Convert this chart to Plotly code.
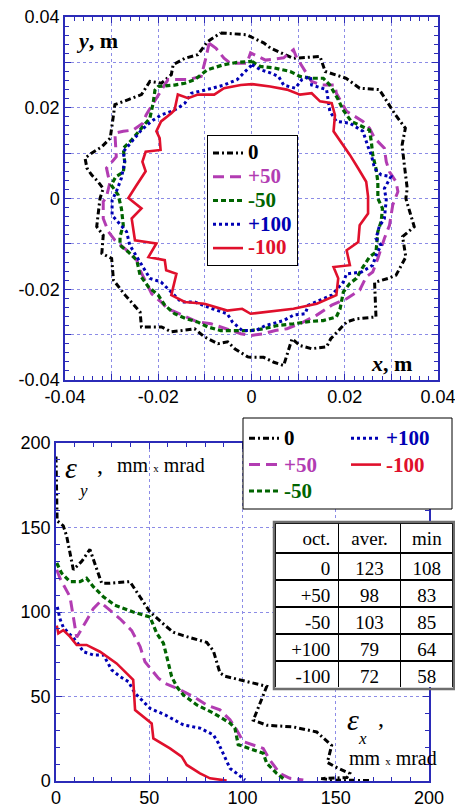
import plotly.graph_objects as go

W, H = 455, 809

# ---- dynamic aperture boundaries (x, y in metres), one closed contour per octupole setting
ap_x_0 = [-0.0066, -0.0011, 0.0026, 0.0040, 0.0089, 0.0147, 0.0158, 0.0203, 0.0232, 0.0274, 0.0288, 0.0309,
          0.0330, 0.0323, 0.0327, 0.0334, 0.0331, 0.0349, 0.0324, 0.0331, 0.0310, 0.0293, 0.0264, 0.0267,
          0.0225, 0.0204, 0.0170, 0.0161, 0.0129, 0.0104, 0.0087, 0.0069, 0.0048, 0.0026, -0.0002, -0.0008,
          -0.0036, -0.0051, -0.0072, -0.0101, -0.0122, -0.0172, -0.0193, -0.0236, -0.0239, -0.0271, -0.0296,
          -0.0300, -0.0321, -0.0318, -0.0332, -0.0325, -0.0318, -0.0329, -0.0343, -0.0353, -0.0357, -0.0343,
          -0.0321, -0.0303, -0.0296, -0.0293, -0.0264, -0.0236, -0.0218, -0.0193, -0.0172, -0.0168, -0.0143,
          -0.0115, -0.0094, -0.0066]
ap_y_0 = [0.0365, 0.0361, 0.0343, 0.0332, 0.0309, 0.0313, 0.0280, 0.0265, 0.0243, 0.0240, 0.0218, 0.0184,
          0.0155, 0.0118, 0.0081, 0.0022, 0.0000, -0.0062, -0.0084, -0.0129, -0.0169, -0.0176, -0.0185, -0.0261,
          -0.0265, -0.0272, -0.0309, -0.0327, -0.0331, -0.0324, -0.0309, -0.0368, -0.0361, -0.0350, -0.0350,
          -0.0349, -0.0331, -0.0316, -0.0320, -0.0305, -0.0287, -0.0294, -0.0283, -0.0283, -0.0250, -0.0213,
          -0.0180, -0.0132, -0.0121, -0.0081, -0.0062, 0.0000, 0.0022, 0.0037, 0.0052, 0.0067, 0.0089, 0.0100,
          0.0114, 0.0133, 0.0184, 0.0207, 0.0218, 0.0229, 0.0258, 0.0254, 0.0273, 0.0295, 0.0309, 0.0317,
          0.0346, 0.0365]

ap_x_p50 = [-0.0091, -0.0076, -0.0059, -0.0045, -0.0010, -0.0002, 0.0030, 0.0069, 0.0090, 0.0097, 0.0129,
            0.0151, 0.0179, 0.0182, 0.0204, 0.0239, 0.0253, 0.0264, 0.0285, 0.0289, 0.0296, 0.0310, 0.0314,
            0.0303, 0.0296, 0.0285, 0.0271, 0.0260, 0.0246, 0.0232, 0.0204, 0.0172, 0.0140, 0.0104, 0.0076,
            0.0051, 0.0026, -0.0002, -0.0023, -0.0087, -0.0116, -0.0162, -0.0179, -0.0194, -0.0214, -0.0239,
            -0.0246, -0.0268, -0.0293, -0.0307, -0.0318, -0.0318, -0.0311, -0.0304, -0.0311, -0.0290, -0.0293,
            -0.0275, -0.0254, -0.0233, -0.0226, -0.0215, -0.0204, -0.0194, -0.0179, -0.0136, -0.0108, -0.0098,
            -0.0091]
ap_y_p50 = [0.0342, 0.0331, 0.0309, 0.0298, 0.0298, 0.0321, 0.0305, 0.0310, 0.0328, 0.0310, 0.0258,
            0.0250, 0.0250, 0.0232, 0.0192, 0.0170, 0.0155, 0.0133, 0.0111, 0.0081, 0.0059, 0.0037, 0.0015,
            -0.0014, -0.0059, -0.0088, -0.0132, -0.0162, -0.0173, -0.0202, -0.0221, -0.0235, -0.0257, -0.0276,
            -0.0287, -0.0291, -0.0298, -0.0302, -0.0298, -0.0276, -0.0272, -0.0250, -0.0243, -0.0228, -0.0210,
            -0.0158, -0.0136, -0.0114, -0.0092, -0.0073, -0.0044, -0.0007, 0.0004, 0.0034, 0.0067, 0.0092,
            0.0144, 0.0148, 0.0151, 0.0166, 0.0184, 0.0203, 0.0221, 0.0239, 0.0262, 0.0262, 0.0269, 0.0309,
            0.0342]

ap_x_m50 = [0.0001, 0.0019, 0.0047, 0.0083, 0.0104, 0.0129, 0.0154, 0.0168, 0.0186, 0.0196, 0.0214, 0.0239,
            0.0253, 0.0257, 0.0260, 0.0267, 0.0271, 0.0271, 0.0281, 0.0278, 0.0271, 0.0267, 0.0253, 0.0239,
            0.0225, 0.0211, 0.0197, 0.0190, 0.0182, 0.0154, 0.0126, 0.0090, 0.0055, 0.0026, -0.0002, -0.0031,
            -0.0066, -0.0094, -0.0116, -0.0140, -0.0165, -0.0186, -0.0200, -0.0221, -0.0239, -0.0246, -0.0264,
            -0.0282, -0.0282, -0.0275, -0.0279, -0.0286, -0.0301, -0.0291, -0.0275, -0.0272, -0.0275, -0.0257,
            -0.0240, -0.0218, -0.0211, -0.0207, -0.0200, -0.0165, -0.0143, -0.0122, -0.0108, -0.0094, -0.0059,
            -0.0031, 0.0001]
ap_y_m50 = [0.0302, 0.0291, 0.0288, 0.0280, 0.0269, 0.0265, 0.0265, 0.0250, 0.0218, 0.0196, 0.0170, 0.0159,
            0.0151, 0.0125, 0.0096, 0.0066, 0.0037, 0.0000, -0.0022, -0.0051, -0.0073, -0.0118, -0.0129, -0.0151,
            -0.0176, -0.0187, -0.0206, -0.0243, -0.0261, -0.0269, -0.0271, -0.0276, -0.0280, -0.0287, -0.0291,
            -0.0291, -0.0291, -0.0283, -0.0272, -0.0265, -0.0254, -0.0235, -0.0213, -0.0195, -0.0169, -0.0136,
            -0.0118, -0.0103, -0.0084, -0.0059, -0.0022, 0.0008, 0.0030, 0.0048, 0.0058, 0.0081, 0.0111, 0.0129,
            0.0151, 0.0177, 0.0210, 0.0239, 0.0247, 0.0250, 0.0254, 0.0262, 0.0273, 0.0284, 0.0295, 0.0300,
            0.0302]

ap_x_p100 = [0.0001, 0.0019, 0.0040, 0.0058, 0.0069, 0.0094, 0.0108, 0.0126, 0.0129, 0.0161, 0.0168, 0.0182,
             0.0211, 0.0239, 0.0250, 0.0257, 0.0264, 0.0278, 0.0299, 0.0285, 0.0289, 0.0285, 0.0274, 0.0267,
             0.0278, 0.0267, 0.0260, 0.0236, 0.0204, 0.0197, 0.0172, 0.0140, 0.0122, 0.0115, 0.0090, 0.0069,
             0.0030, 0.0009, -0.0020, -0.0041, -0.0052, -0.0084, -0.0122, -0.0151, -0.0165, -0.0194, -0.0218,
             -0.0243, -0.0261, -0.0268, -0.0299, -0.0299, -0.0290, -0.0279, -0.0272, -0.0275, -0.0257, -0.0236,
             -0.0215, -0.0194, -0.0172, -0.0158, -0.0143, -0.0129, -0.0100, -0.0059, -0.0031, -0.0010, 0.0001]
ap_y_p100 = [0.0295, 0.0284, 0.0277, 0.0269, 0.0250, 0.0243, 0.0262, 0.0269, 0.0250, 0.0240, 0.0192, 0.0170,
             0.0166, 0.0148, 0.0114, 0.0096, 0.0066, 0.0052, 0.0048, 0.0022, -0.0003, -0.0044, -0.0062, -0.0088,
             -0.0103, -0.0125, -0.0147, -0.0162, -0.0166, -0.0184, -0.0213, -0.0228, -0.0235, -0.0254, -0.0257,
             -0.0269, -0.0280, -0.0291, -0.0291, -0.0272, -0.0254, -0.0243, -0.0228, -0.0228, -0.0213, -0.0184,
             -0.0176, -0.0132, -0.0103, -0.0073, -0.0037, -0.0004, 0.0015, 0.0045, 0.0081, 0.0103, 0.0125, 0.0151,
             0.0170, 0.0184, 0.0192, 0.0199, 0.0210, 0.0232, 0.0239, 0.0250, 0.0262, 0.0284, 0.0295]

ap_x_m100 = [0.0001, 0.0040, 0.0076, 0.0104, 0.0129, 0.0147, 0.0172, 0.0179, 0.0176, 0.0200, 0.0211, 0.0229,
             0.0246, 0.0250, 0.0250, 0.0232, 0.0229, 0.0204, 0.0211, 0.0176, 0.0186, 0.0182, 0.0140, 0.0090,
             0.0033, -0.0002, -0.0020, -0.0052, -0.0101, -0.0143, -0.0172, -0.0168, -0.0161, -0.0183, -0.0186,
             -0.0221, -0.0204, -0.0250, -0.0257, -0.0236, -0.0264, -0.0248, -0.0227, -0.0234, -0.0227, -0.0195,
             -0.0197, -0.0204, -0.0194, -0.0172, -0.0165, -0.0158, -0.0136, -0.0115, -0.0080, -0.0059, -0.0023,
             0.0001]
ap_y_m100 = [0.0252, 0.0247, 0.0240, 0.0229, 0.0232, 0.0214, 0.0210, 0.0184, 0.0148, 0.0114, 0.0096, 0.0066,
             0.0037, 0.0004, -0.0033, -0.0059, -0.0096, -0.0114, -0.0147, -0.0151, -0.0176, -0.0213, -0.0232,
             -0.0243, -0.0250, -0.0254, -0.0243, -0.0247, -0.0232, -0.0228, -0.0213, -0.0195, -0.0166, -0.0158,
             -0.0136, -0.0129, -0.0099, -0.0092, -0.0044, -0.0022, 0.0001, 0.0027, 0.0060, 0.0081, 0.0103, 0.0107,
             0.0133, 0.0148, 0.0170, 0.0188, 0.0195, 0.0229, 0.0221, 0.0229, 0.0229, 0.0243, 0.0250, 0.0252]

# ---- emittance boundaries, eps_x vs eps_y (mm x mrad)
ex_0 = [0, 0.4, 0.6, 3.9, 5.7, 9.3, 13.8, 18.2, 24.5, 28.9, 39.6, 45.0, 50.4, 58.5, 62.9, 68.3, 80.8, 84.4,
        87.9, 90.6, 102.2, 113.0, 109.4, 105.8, 113.0, 127.3, 139.8, 147.8, 145.5, 149.5, 157.5, 156.0, 142.0,
        150.0, 168.0]
ey_0 = [192, 175, 154, 151, 145, 125, 130, 137, 117, 117, 118, 109, 100, 92, 88, 86, 82, 77,
        64, 62, 59, 56, 46, 36, 33, 32, 29, 21, 11, 8.5, 4.5, 2.0, 1.5,
        0.5, 0.3]

ex_p50 = [0.4, 2.1, 7.5, 9.3, 10.2, 11.1, 16.4, 20.0, 23.6, 30.7, 34.3, 40.6, 45.1, 47.7, 50.4, 54.9, 58.5,
          64.7, 73.6, 80.8, 87.9, 93.3, 96.9, 99.6, 100.4, 111.1, 114.7, 120.0, 125.4, 132.6]
ey_p50 = [125, 120, 109, 97, 91, 85, 95, 102, 106, 99, 96, 89, 79.5, 70.6, 66.7, 60.8, 57.8,
          54.9, 50, 45, 42.1, 36.2, 30.2, 24.3, 23.3, 19.3, 12.4, 4.5, 1.6, 0.6]

ex_m50 = [0.4, 3.0, 7.5, 12.9, 16.4, 20.0, 25.4, 31.6, 41.4, 50.4, 54.0, 57.6, 59.4, 62.0, 64.7, 68.3, 75.5,
          84.4, 93.3, 95.9, 97.7, 103.0, 111.1, 113.0, 118.3, 122.8]
ey_m50 = [129, 123, 118, 118, 120, 115, 109, 104, 100, 97, 87.4, 81.5, 73.6, 61.8, 55.9, 50.9, 45,
          40.2, 34.3, 31.4, 21.5, 19.5, 16.4, 10.5, 4.5, 0.6]

ex_p100 = [0.7, 2.1, 3.9, 11.1, 14.7, 20.0, 25.4, 29.9, 34.3, 38.8, 42.4, 50.4, 58.5, 68.3, 77.2, 84.4, 87.1,
           89.7, 93.3, 96.9, 101.4]
ey_p100 = [103, 96, 91, 82.4, 76.5, 74.6, 74.6, 65.7, 61.8, 58.8, 51.9, 43, 39.1, 33.2, 31.3, 27.3, 22.3,
           16.4, 7.5, 4.5, 0.6]

ex_m100 = [0.4, 1.25, 3.9, 7.5, 11.1, 16.4, 23.6, 32.5, 37.9, 41.4, 42.4, 49.5, 51.3, 52.2, 61.1, 67.4, 70.1,
           77.2, 82.6, 91.5]
ey_m100 = [92, 87.4, 89.3, 85.4, 80.5, 80.5, 76.5, 69.6, 63.7, 59.8, 42, 36.1, 34.1, 25.2, 19.3, 14.4, 9.5,
           4.5, 1.6, 0.2]

# ---- summary table
tbl_head = ["oct.", "aver.", "min"]
tbl_oct = ["0", "+50", "-50", "+100", "-100"]
tbl_aver = ["123", "98", "103", "79", "72"]
tbl_min = ["108", "83", "85", "64", "58"]

names = ["0", "+50", "-50", "+100", "-100"]
colors = ["#000000", "#b23cb2", "#006400", "#0000b4", "#e0102c"]
dashes = ["6px,3px,2px,3px", "11px,6px", "5px,3px", "3px,3px", "solid"]
widths = [3, 3, 3.2, 3, 2.6]

ap_sets = [(ap_x_0, ap_y_0), (ap_x_p50, ap_y_p50), (ap_x_m50, ap_y_m50),
           (ap_x_p100, ap_y_p100), (ap_x_m100, ap_y_m100)]
em_sets = [(ex_0, ey_0), (ex_p50, ey_p50), (ex_m50, ey_m50),
           (ex_p100, ey_p100), (ex_m100, ey_m100)]
# lower legend: first column 0, +50, -50; second column +100, -100
em_legend = ["legend2", "legend2", "legend2", "legend3", "legend3"]


def px(xp):
    return xp / W


def py(yp):
    return 1 - yp / H


def label(name, color):
    return (f'<span style="color:{color};font-size:21px;font-family:Liberation Serif">'
            f'<b>{name}</b></span>')


fig = go.Figure()

for i, (xs, ys) in enumerate(ap_sets):
    fig.add_trace(go.Scatter(
        x=xs, y=ys, mode="lines", xaxis="x", yaxis="y",
        line=dict(color=colors[i], dash=dashes[i], width=widths[i]),
        name=label(names[i], colors[i]), legend="legend", legendrank=i + 1))

for i, (xs, ys) in enumerate(em_sets):
    fig.add_trace(go.Scatter(
        x=xs, y=ys, mode="lines", xaxis="x2", yaxis="y2",
        line=dict(color=colors[i], dash=dashes[i], width=widths[i]),
        name=label(names[i], colors[i]), legend=em_legend[i], legendrank=i + 1))

fig.add_trace(go.Table(
    domain=dict(x=[px(275), px(453)], y=[py(688), py(523)]),
    columnwidth=[63, 62, 52],
    header=dict(values=tbl_head, align=["right", "center", "center"], height=30,
                fill_color="white", line=dict(color="black", width=1.5),
                font=dict(family="Liberation Serif", size=19, color="black")),
    cells=dict(values=[tbl_oct, tbl_aver, tbl_min], align=["right", "center", "center"], height=27,
               fill_color="white", line=dict(color="black", width=1.5),
               font=dict(family="Liberation Serif", size=19, color="black"))))

axis_blue = "#2b2bb8"
grid_blue = "#8c8ce6"
tickfont = dict(family="Liberation Sans", size=18, color="black")

ap_ticks = [-0.04, -0.03, -0.02, -0.01, 0, 0.01, 0.02, 0.03, 0.04]
ap_text = ["-0.04", "", "-0.02", "", "0", "", "0.02", "", "0.04"]
em_ticks = [0, 50, 100, 150, 200]
em_text = ["0", "50", "100", "150", "200"]

common = dict(showline=True, linecolor=axis_blue, linewidth=1.5, mirror="ticks",
              ticks="inside", ticklen=6, tickcolor=axis_blue, tickwidth=1,
              showgrid=True, gridcolor=grid_blue, griddash="dot", gridwidth=1,
              zeroline=False, tickfont=tickfont, fixedrange=True, automargin=False,
              ticklabeloverflow="allow")

legend_common = dict(xanchor="left", yanchor="top", tracegroupgap=0, itemwidth=30)

fig.update_layout(
    width=W, height=H, margin=dict(l=0, r=0, t=0, b=0, autoexpand=False),
    paper_bgcolor="white", plot_bgcolor="white",
    xaxis=dict(domain=[px(65), px(438)], anchor="y", range=[-0.04, 0.04],
               tickmode="array", tickvals=ap_ticks, ticktext=ap_text,
               minor=dict(dtick=0.002, ticks="inside", ticklen=4, tickcolor=axis_blue, showgrid=False),
               **common),
    yaxis=dict(domain=[py(380), py(17)], anchor="x", range=[-0.04, 0.04],
               tickmode="array", tickvals=ap_ticks, ticktext=ap_text,
               minor=dict(dtick=0.002, ticks="inside", ticklen=4, tickcolor=axis_blue, showgrid=False),
               **common),
    xaxis2=dict(domain=[px(56), px(429)], anchor="y2", range=[0, 200],
                tickmode="array", tickvals=em_ticks, ticktext=em_text,
                minor=dict(dtick=10, ticks="inside", ticklen=4, tickcolor=axis_blue, showgrid=False),
                **common),
    yaxis2=dict(domain=[py(781), py(443)], anchor="x2", range=[0, 200],
                tickmode="array", tickvals=em_ticks, ticktext=em_text,
                minor=dict(dtick=10, ticks="inside", ticklen=4, tickcolor=axis_blue, showgrid=False),
                **common),
    legend=dict(x=px(207), y=py(135), bgcolor="white", bordercolor="black", borderwidth=1,
                font=dict(family="Liberation Serif", size=16, color="black"), **legend_common),
    legend2=dict(x=px(244), y=py(420), bgcolor="rgba(0,0,0,0)", borderwidth=0,
                 font=dict(family="Liberation Serif", size=18, color="black"), **legend_common),
    legend3=dict(x=px(346), y=py(420), bgcolor="rgba(0,0,0,0)", borderwidth=0,
                 font=dict(family="Liberation Serif", size=18, color="black"), **legend_common),
    showlegend=True,
)

serif = "Liberation Serif"
ann = [
    dict(x=px(74), y=py(41), text="<b><i>y</i>, m</b>", size=22),
    dict(x=px(369), y=py(363), text="<b><i>x</i>, m</b>", size=22),
    dict(x=px(63), y=py(467), text="<i>ε</i>", size=30),
    dict(x=px(76), y=py(490), text="<i>y</i>", size=17),
    dict(x=px(95), y=py(465), text=",", size=24),
    dict(x=px(115), y=py(465), text='mm <span style="font-size:11px">x</span> mrad', size=20),
    dict(x=px(345), y=py(719), text="<i>ε</i>", size=30),
    dict(x=px(356), y=py(738), text="<i>x</i>", size=17),
    dict(x=px(376), y=py(718), text=",", size=24),
    dict(x=px(347), y=py(758), text='mm <span style="font-size:11px">x</span> mrad', size=20),
]
for a in ann:
    fig.add_annotation(x=a["x"], y=a["y"], xref="paper", yref="paper", xanchor="left", yanchor="middle",
                       text=a["text"], showarrow=False,
                       font=dict(family=serif, size=a["size"], color="black"))

# box enclosing the two-column lower legend
fig.add_shape(type="rect", xref="paper", yref="paper", x0=px(243), x1=px(452), y0=py(509), y1=py(418),
              line=dict(color="black", width=1), fillcolor="white", layer="above")
# grey outer frame of the table
fig.add_shape(type="rect", xref="paper", yref="paper", x0=px(274), x1=px(454), y0=py(689), y1=py(522),
              line=dict(color="#6e6e6e", width=2.5), fillcolor="rgba(0,0,0,0)", layer="above")

fig.write_html("out.html")
